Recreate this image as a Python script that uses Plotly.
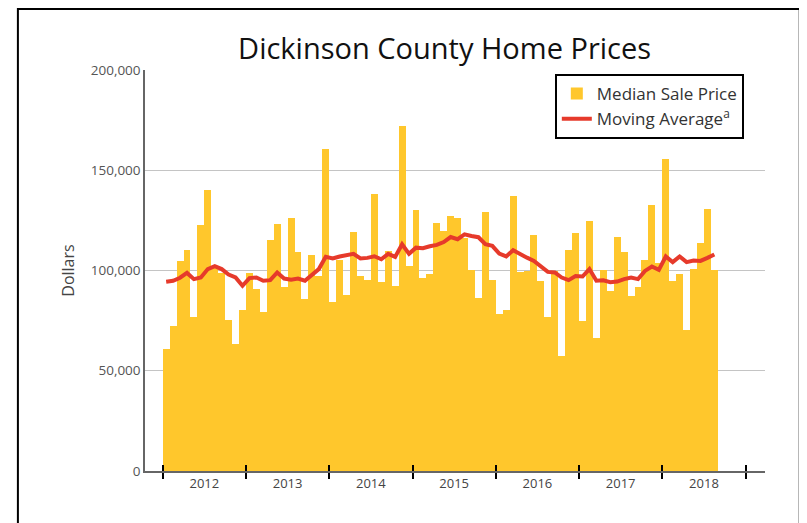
import plotly.graph_objects as go

# ---- data (values in thousands of dollars) ----
years = [2012, 2013, 2014, 2015, 2016, 2017, 2018]
year_labels = ["2012", "2013", "2014", "2015", "2016", "2017", "2018"]

months = [f"{y}-{m:02d}" for y in years for m in range(1, 13)][:80]

median_sale_price_k = [
    60.8, 72.4, 104.8, 110.3, 76.7, 122.8, 140.4, 102.0, 99.0, 75.3, 63.1, 80.3,    # 2012
    98.7, 90.6, 79.3, 115.4, 123.0, 91.6, 126.3, 109.4, 85.9, 107.6, 97.4, 160.4,   # 2013
    84.3, 105.1, 87.7, 119.4, 97.2, 95.4, 138.4, 94.4, 109.8, 92.5, 172.2, 102.3,   # 2014
    130.3, 96.2, 98.2, 123.8, 119.7, 127.0, 126.3, 116.0, 100.2, 86.1, 129.0, 95.4, # 2015
    78.3, 80.3, 137.4, 99.5, 100.0, 117.6, 94.9, 77.0, 99.8, 57.5, 110.0, 118.9,    # 2016
    74.6, 124.9, 66.3, 100.2, 90.0, 116.8, 109.4, 87.4, 92.0, 105.2, 132.6, 103.6,  # 2017
    155.7, 94.6, 98.3, 70.3, 100.7, 113.9, 130.7, 100.2,                            # 2018
]

moving_average_k = [
    94.4, 94.9, 96.4, 98.8, 95.7, 96.5, 100.7, 102.2, 100.7, 98.0, 96.5, 92.4,
    96.2, 96.5, 94.9, 95.2, 99.0, 96.0, 95.4, 96.0, 94.9, 97.5, 100.7, 106.8,
    106.0, 107.0, 107.8, 108.3, 106.0, 106.3, 107.1, 105.6, 108.3, 106.8, 113.1, 108.3,
    111.4, 111.1, 112.1, 112.8, 114.2, 116.7, 115.6, 118.0, 117.2, 116.6, 113.1, 112.3,
    108.4, 107.0, 110.1, 108.0, 106.4, 104.8, 102.2, 99.3, 99.0, 96.5, 95.2, 97.2,
    97.0, 100.7, 94.9, 95.1, 94.2, 94.5, 95.7, 96.5, 95.7, 99.8, 102.0, 100.3,
    107.0, 104.2, 107.0, 104.2, 105.0, 104.8, 106.3, 108.0,
]

y_ticks = [0, 50000, 100000, 150000, 200000]

# ---- derived positions on a month-index axis ----
def month_index(s):
    y, m = s.split("-")
    return (int(y) - years[0]) * 12 + int(m) - 1

x_mid = [month_index(s) + 0.5 for s in months]
median = [v * 1000 for v in median_sale_price_k]
mavg = [v * 1000 for v in moving_average_k]
year_starts = [(y - years[0]) * 12 for y in years + [years[-1] + 1]]
year_mids = [(y - years[0]) * 12 + 6 for y in years]

FONT = "Open Sans"
BAR = "#FFC72C"
RED = "#E63A2B"

fig = go.Figure()
fig.add_trace(go.Bar(
    x=x_mid, y=median, width=1, name="Median Sale Price",
    marker=dict(color=BAR, line=dict(width=0)),
    hovertext=months,
))
fig.add_trace(go.Scatter(
    x=x_mid, y=mavg, mode="lines", name="Moving Average<sup>a</sup>",
    line=dict(color=RED, width=4),
))
# invisible helper trace so the overlay axis (inside tick marks) is drawn
fig.add_trace(go.Scatter(
    x=[x_mid[0]], y=[0], xaxis="x2", mode="markers",
    marker=dict(opacity=0), showlegend=False, hoverinfo="skip",
))

xrange = [-2.55, 86.8]
fig.update_layout(
    width=807, height=523,
    paper_bgcolor="white", plot_bgcolor="white",
    margin=dict(l=137, r=50, t=62, b=60),
    font=dict(family=FONT, color="#444444"),
    title=dict(text="Dickinson County Home Prices", x=0.541, xanchor="center",
               y=0.922, yanchor="middle", yref="container",
               font=dict(family=FONT, size=29, color="#111111")),
    bargap=0,
    showlegend=True,
    legend=dict(x=0.661, y=0.99, xanchor="left", yanchor="top",
                bgcolor="white", bordercolor="black", borderwidth=2,
                font=dict(family=FONT, size=17, color="#333333"),
                tracegroupgap=4),
    xaxis=dict(
        range=xrange, showgrid=False, zeroline=False,
        showline=True, linecolor="#666666", linewidth=1.5,
        tickmode="array", tickvals=year_mids, ticktext=year_labels,
        ticks="", tickfont=dict(family=FONT, size=13, color="#444444"),
        minor=dict(tickmode="array", tickvals=year_starts, ticks="outside",
                   ticklen=6, tickwidth=1.5, tickcolor="black", showgrid=False),
    ),
    xaxis2=dict(
        range=xrange, overlaying="x", anchor="y", side="bottom",
        showgrid=False, zeroline=False, showline=False,
        tickmode="array", tickvals=year_starts, ticks="inside",
        ticklen=6, tickwidth=1.5, tickcolor="black", showticklabels=False,
    ),
    yaxis=dict(
        range=[0, 200000], tickmode="array", tickvals=y_ticks, tickformat=",",
        showgrid=True, gridcolor="#C4C4C4", gridwidth=1, zeroline=False,
        showline=True, linecolor="#666666", linewidth=1.5,
        ticks="", tickfont=dict(family=FONT, size=13.5, color="#555555"),
        title=dict(text="Dollars", standoff=12,
                   font=dict(family=FONT, size=16, color="#444444")),
    ),
    shapes=[dict(type="rect", xref="paper", yref="paper",
                 x0=-0.205, x1=1.056, y0=-0.25, y1=1.152,
                 line=dict(color="black", width=2), fillcolor="rgba(0,0,0,0)",
                 layer="above")],
)

fig.write_html("out.html")
